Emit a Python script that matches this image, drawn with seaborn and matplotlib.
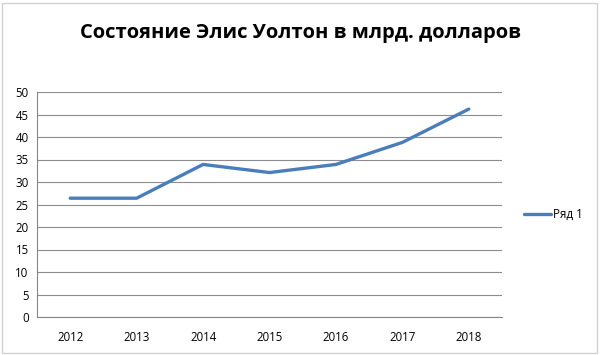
import numpy as np
import pandas as pd
import matplotlib
matplotlib.use('Agg')
import matplotlib.pyplot as plt
import seaborn as sns
from matplotlib.patches import Rectangle

years = ['2012', '2013', '2014', '2015', '2016', '2017', '2018']
wealth = [26.4, 26.4, 33.9, 32.1, 33.9, 38.8, 46.2]
series_name = 'Ряд 1'
title = 'Состояние Элис Уолтон в млрд. долларов'

df = pd.DataFrame({'pos': np.arange(len(years)), 'value': wealth, 'series': series_name})

sns.set_style('white')
plt.rcParams['font.family'] = ['Open Sans', 'DejaVu Sans']
plt.rcParams['text.color'] = '#000000'

fig = plt.figure(figsize=(6, 3.55), dpi=100)
ax = fig.add_axes([37 / 600, 1 - 317 / 355, (502 - 37) / 600, (317 - 92) / 355])

sns.lineplot(data=df, x='pos', y='value', hue='series', palette=['#4a7ebb'],
             linewidth=2.4, ax=ax, legend=True)

ax.set_xlim(-0.5, len(years) - 0.5)
ax.set_ylim(0, 50)
ax.set_yticks(np.arange(0, 51, 5))
ax.set_xticks(np.arange(len(years)))
ax.set_xticklabels(years)
ax.set_xticks(np.arange(len(years) + 1) - 0.5, minor=True)
ax.tick_params(axis='x', which='major', length=0, labelsize=8.3, pad=10, labelcolor='#000000')
ax.tick_params(axis='x', which='minor', length=4, width=0.8, color='#868686', direction='out')
ax.tick_params(axis='y', which='major', length=4, width=0.8, color='#868686', direction='out',
               labelsize=8.3, pad=2, labelcolor='#000000')
ax.yaxis.grid(True, color='#8c8c8c', linewidth=0.8)
ax.set_axisbelow(True)
for side in ['top', 'right']:
    ax.spines[side].set_visible(False)
for side in ['left', 'bottom']:
    ax.spines[side].set_color('#868686')
    ax.spines[side].set_linewidth(0.8)
ax.set_xlabel('')
ax.set_ylabel('')

leg = ax.legend(loc='center left', bbox_to_anchor=(1.025, 0.455), frameon=False,
                fontsize=8.3, handlelength=2.3, handletextpad=0.2)

fig.text(0.5, 1 - 33 / 355, title, ha='center', va='center', fontsize=14.5,
         fontweight='bold', color='#000000')

fig.patches.append(Rectangle((2 / 600, 2 / 355), 595 / 600, 350 / 355, transform=fig.transFigure,
                             fill=False, edgecolor='#d0d0d0', linewidth=1))

fig.savefig('out.png', dpi=100)
